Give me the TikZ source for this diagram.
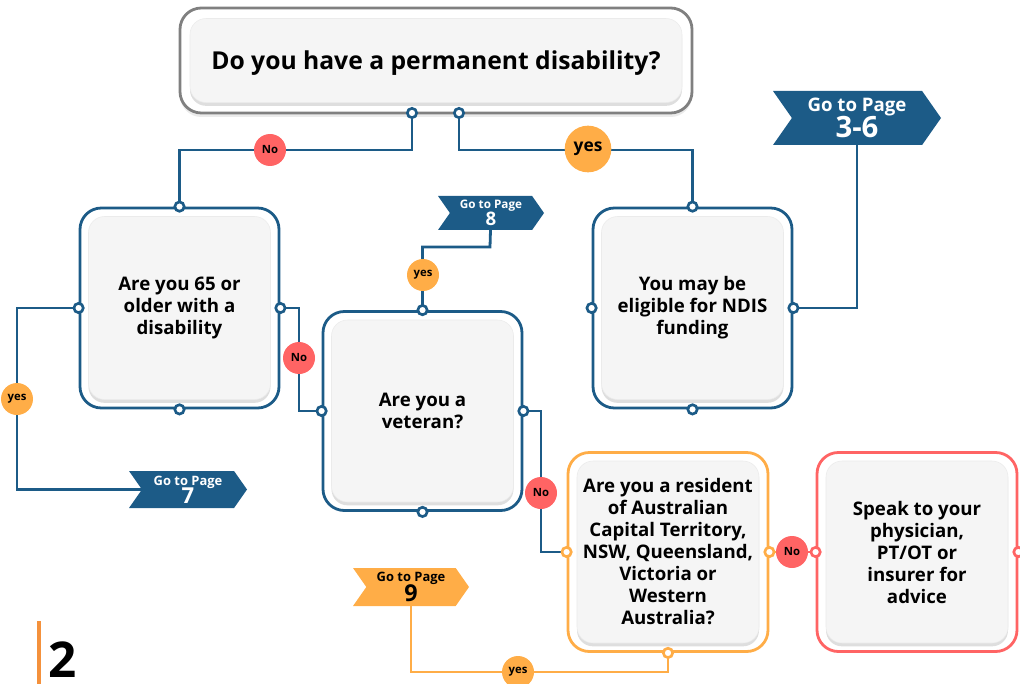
\documentclass[tikz,border=0pt]{standalone}
\usepackage{fontspec}
\setmainfont{Open Sans}
\usetikzlibrary{shapes.symbols,shadows}
\definecolor{fblue}{RGB}{28,91,135}
\definecolor{fred}{RGB}{255,100,100}
\definecolor{forange}{RGB}{255,173,71}
\definecolor{boxfill}{RGB}{245,245,245}
\definecolor{topgray}{RGB}{128,128,128}
\definecolor{barorange}{RGB}{244,145,60}
\newcommand\tightlines{\lineskiplimit=-20pt\relax\lineskip=0pt\relax}
\pgfdeclarelayer{bg}
\pgfsetlayers{bg,main}
\begin{document}
\begin{tikzpicture}[x=0.75pt,y=-0.75pt,
  sz/.style 2 args={minimum width=#1*0.75pt, minimum height=#2*0.75pt, inner sep=0pt},
  outerbox/.style={draw=#1, line width=2.1pt, rounded corners=16pt, fill=white},
  innerbox/.style={fill=boxfill, draw=black!8, line width=0.4pt, rounded corners=12pt,
     drop shadow={shadow xshift=0pt, shadow yshift=-2.5pt, fill=black, opacity=0.13}},
  btxt/.style={font=\bfseries\fontsize{14pt}{16.5pt}\selectfont\tightlines, align=center, text=black},
  conn/.style={draw=#1, line width=2.1pt},
  dot/.style={circle, draw=#1, fill=white, line width=2pt, minimum size=7pt, inner sep=0pt},
  lab/.style={circle, fill=#1, inner sep=0pt, minimum size=24pt, text=black,
     font=\bfseries\fontsize{8.5pt}{8.5pt}\selectfont},
  banner/.style={signal, signal to=east, signal from=west, signal pointer angle=110,
     fill=#1, inner sep=0pt, align=center, text=white}
]
\useasboundingbox (0,0) rectangle (1020,684);

% ---------- boxes ----------
\node[outerbox=topgray, sz={512}{105}, drop shadow={shadow xshift=0pt, shadow yshift=-3pt, fill=black, opacity=0.08}] (top) at (436,60.5) {};
\node[innerbox, sz={492}{84}, text height=18pt, text depth=4.5pt, font=\bfseries\fontsize{18.5pt}{22pt}\selectfont] (topi) at (top) {Do you have a permanent disability?};

\node[outerbox=fblue, sz={199}{200}] (q65) at (179.5,308) {};
\node[innerbox, sz={182}{183}, btxt] (q65i) at (q65) {Are you 65 or\\older with a\\disability};

\node[outerbox=fblue, sz={199}{199}] (vet) at (422.5,411) {};
\node[innerbox, sz={182}{182}, btxt] (veti) at (vet) {Are you a\\veteran?};

\node[outerbox=fblue, sz={199}{200}] (elig) at (692.5,308) {};
\node[innerbox, sz={182}{183}, btxt] (eligi) at (elig) {You may be\\eligible for NDIS\\funding};

\node[outerbox=forange, sz={200}{199}] (res) at (668,552) {};
\node[innerbox, sz={182}{182}, btxt] (resi) at (res) {Are you a resident\\of Australian\\Capital Territory,\\NSW, Queensland,\\Victoria or\\Western\\Australia?};

\node[outerbox=fred, sz={200}{199}] (spk) at (917,552) {};
\node[innerbox, sz={182}{182}, btxt] (spki) at (spk) {Speak to your\\physician,\\PT/OT or\\insurer for\\advice};

% ---------- top connector dots ----------
\node[dot=fblue] (tdL) at (412,113) {};
\node[dot=fblue] (tdR) at (459,113) {};
\draw[topgray, line width=2pt] (428,113) -- (441,113);

% ---------- banners ----------
\node[banner=fblue, sz={168}{54}, font=\bfseries\fontsize{14pt}{19.5pt}\selectfont\tightlines] (g36) at (857,118)
  {Go to Page\\{\fontsize{22pt}{19.5pt}\selectfont 3-6}};
\node[banner=fblue, sz={106}{34}, font=\bfseries\fontsize{8.8pt}{12.5pt}\selectfont\tightlines] (g8) at (491,213)
  {Go to Page\\{\fontsize{14pt}{12.5pt}\selectfont 8}};
\node[banner=fblue, sz={118}{37}, font=\bfseries\fontsize{9.7pt}{13.5pt}\selectfont\tightlines] (g7) at (188,489.5)
  {Go to Page\\{\fontsize{16.5pt}{13.5pt}\selectfont 7}};
\node[banner=forange, text=black, sz={116}{38}, font=\bfseries\fontsize{9.7pt}{14.5pt}\selectfont\tightlines] (g9) at (411,587)
  {Go to Page\\{\fontsize{17.5pt}{14.5pt}\selectfont 9}};

% ---------- label positions ----------
\coordinate (noTopP) at (270,150);
\coordinate (yesTopP) at (588,150);
\coordinate (k8) at (490,247);

% ---------- connectors ----------
\begin{pgfonlayer}{bg}
\draw[conn=fblue] (tdL.center) -- (tdL |- noTopP) -| (q65.north);
\draw[conn=fblue] (tdR.center) -- (tdR |- yesTopP) -| (elig.north);
\draw[conn=fblue] (q65.west) -| (17,399) |- (g7.center);
\draw[conn=fblue] (q65.east) -| (299,358) |- (vet.west);
\draw[conn=fblue] (vet.north) |- (k8) -- (g8.center);
\draw[conn=fblue] (vet.east) -| (541,493) |- (res.west);
\draw[conn=fblue] (elig.east) -| (g36.center);
\draw[conn=forange] (res.east) -- (792,552);
\draw[conn=fred] (792,552) -- (spk.west);
\draw[conn=forange] (res.south) |- (518,672) -| (g9.center);
\end{pgfonlayer}

% ---------- dots ----------
\foreach \b in {q65,vet,elig}{
  \foreach \a in {north,south,east,west}{
    \node[dot=fblue] (\b-\a) at (\b.\a) {};
  }
}
\foreach \a in {south,east,west}{\node[dot=forange] (res-\a) at (res.\a) {};}
\foreach \a in {east,west}{\node[dot=fred] (spk-\a) at (spk.\a) {};}

% ---------- labels ----------
\node[lab=fred] (noTop) at (noTopP) {No};
\node[lab=forange, minimum size=35pt, font=\bfseries\fontsize{13pt}{13pt}\selectfont] (yesTop) at (588,149) {yes};
\node[lab=forange] (yes7) at (17,399) {yes};
\node[lab=fred] (noVet) at (299,358) {No};
\node[lab=forange] (yes8) at (423,275) {yes};
\node[lab=fred] (noRes) at (541,493) {No};
\node[lab=fred] (noSpk) at (792,552) {No};
\node[lab=forange] (yes9) at (518,672) {yes};

% ---------- page number ----------
\fill[barorange] (37,621) rectangle (41,684);
\node[anchor=base west, inner sep=0pt, font=\bfseries\fontsize{37pt}{37pt}\selectfont] (pg) at (48,677) {2};
\end{tikzpicture}
\end{document}
